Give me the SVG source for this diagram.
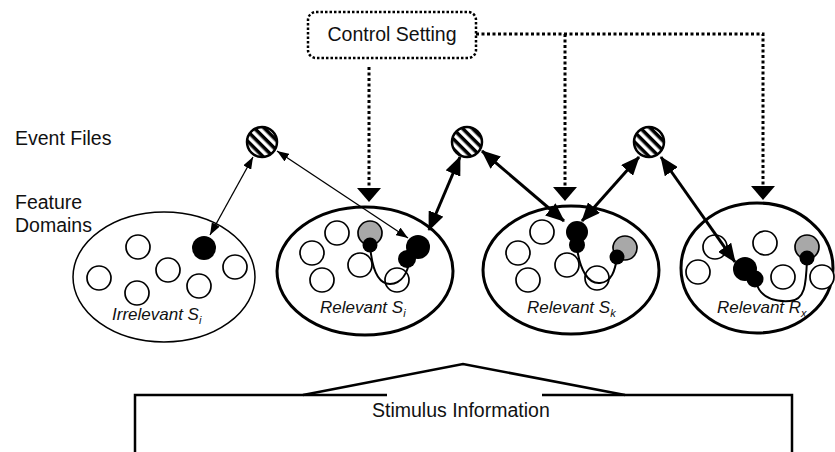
<svg xmlns="http://www.w3.org/2000/svg" width="835" height="452" viewBox="0 0 835 452">
<style>
text{font-family:"Liberation Sans",Arial,sans-serif;fill:#111}
.lbl{font-size:19.5px}
.it{font-size:17px;font-style:italic}
.sub{font-size:11px;font-style:italic}
.dom{fill:#fff;stroke:#000;stroke-width:3}
.domthin{fill:#fff;stroke:#000;stroke-width:1.5}
.f{fill:#fff;stroke:#000;stroke-width:1.7}
.g{fill:#a8a8a8;stroke:#000;stroke-width:1.7}
.b{fill:#000}
.ev{fill:url(#hatch);stroke:#000;stroke-width:2.5}
.curve{fill:none;stroke:#000;stroke-width:2}
.thick{fill:none;stroke:#000;stroke-width:3}
.thin{fill:none;stroke:#000;stroke-width:1.3}
.dot{fill:none;stroke:#000;stroke-width:3;stroke-dasharray:3 2.5}
.br{fill:none;stroke:#000;stroke-width:2.5}
</style>
<defs>
<pattern id="hatch" patternUnits="userSpaceOnUse" width="7" height="7" patternTransform="rotate(45)">
<rect width="7" height="7" fill="#fff"/>
<rect width="7" height="3.5" fill="#000"/>
</pattern>
<marker id="ah" viewBox="0 0 19 16" refX="18" refY="8" markerWidth="19" markerHeight="16" markerUnits="userSpaceOnUse" orient="auto-start-reverse"><path d="M0,0 L19,8 L0,16 z"/></marker>
<marker id="ahs" viewBox="0 0 12 9" refX="12" refY="4.5" markerWidth="12" markerHeight="9" markerUnits="userSpaceOnUse" orient="auto-start-reverse"><path d="M0,0 L12,4.5 L0,9 z"/></marker>
</defs>
<rect width="835" height="452" fill="#fff"/>

<g id="labels">
<text class="lbl" x="15" y="145">Event Files</text>
<text class="lbl" x="15" y="209">Feature</text>
<text class="lbl" x="15" y="232">Domains</text>
</g>

<g id="control-setting">
<rect x="308" y="12" width="168" height="46" rx="8" fill="#fff" stroke="#000" stroke-width="2.5" stroke-dasharray="2.5 2"/>
<text class="lbl" x="392" y="41" text-anchor="middle">Control Setting</text>
</g>

<g id="domain-irrelevant-si">
<ellipse class="domthin" cx="164" cy="277" rx="91" ry="65"/>
<circle class="f" cx="138" cy="247" r="12"/>
<circle class="f" cx="99" cy="278" r="12"/>
<circle class="f" cx="137" cy="293" r="12"/>
<circle class="f" cx="168" cy="270" r="12"/>
<circle class="f" cx="199" cy="286" r="12"/>
<circle class="f" cx="235" cy="267" r="12"/>
<circle class="b" cx="204" cy="248" r="12"/>
<text class="it" x="112" y="320">Irrelevant S<tspan class="sub" dy="4">i</tspan></text>
</g>

<g id="domain-relevant-si">
<ellipse class="dom" cx="365" cy="271" rx="88" ry="64"/>
<circle class="f" cx="337" cy="233" r="12"/>
<circle class="f" cx="312" cy="253" r="12"/>
<circle class="f" cx="322" cy="280" r="12"/>
<circle class="f" cx="360" cy="265" r="12"/>
<circle class="f" cx="397" cy="280" r="12"/>
<circle class="g" cx="370" cy="233" r="12"/>
<path class="curve" d="M370,245 C372,270 378,284 390,284 C402,284 408,272 410,258"/>
<circle class="b" cx="370" cy="245" r="7.5"/>
<circle class="b" cx="418" cy="247" r="12"/>
<circle class="b" cx="407" cy="259" r="9"/>
<text class="it" x="320" y="313">Relevant S<tspan class="sub" dy="4">i</tspan></text>
</g>

<g id="domain-relevant-sk">
<ellipse class="dom" cx="571" cy="270" rx="88" ry="64"/>
<circle class="f" cx="542" cy="232" r="12"/>
<circle class="f" cx="518" cy="253" r="12"/>
<circle class="f" cx="528" cy="280" r="12"/>
<circle class="f" cx="567" cy="265" r="12"/>
<circle class="f" cx="597" cy="278" r="12"/>
<circle class="g" cx="625" cy="248" r="12"/>
<path class="curve" d="M577,248 C580,270 588,284 600,283 C612,282 615,270 617,258"/>
<circle class="b" cx="617" cy="257" r="7.5"/>
<circle class="b" cx="577" cy="232" r="11"/>
<circle class="b" cx="577" cy="245" r="8"/>
<text class="it" x="527" y="313">Relevant S<tspan class="sub" dy="4">k</tspan></text>
</g>

<g id="domain-relevant-rx">
<ellipse class="dom" cx="757" cy="268" rx="76" ry="65"/>
<circle class="f" cx="715" cy="247" r="12"/>
<circle class="f" cx="698" cy="272" r="12"/>
<circle class="f" cx="765" cy="243" r="12"/>
<circle class="f" cx="783" cy="277" r="12"/>
<circle class="f" cx="822" cy="277" r="12"/>
<circle class="g" cx="807" cy="247" r="12"/>
<path class="curve" d="M756,282 C760,298 775,302 790,301 C805,300 806,285 807,260"/>
<circle class="b" cx="807" cy="258" r="7.5"/>
<circle class="b" cx="745" cy="269" r="12"/>
<circle class="b" cx="755" cy="279" r="8.5"/>
<text class="it" x="717" y="313">Relevant R<tspan class="sub" dy="4">x</tspan></text>
</g>

<g id="event-file-1"><circle class="ev" cx="262" cy="142" r="15"/></g>
<g id="event-file-2"><circle class="ev" cx="467" cy="142" r="15"/></g>
<g id="event-file-3"><circle class="ev" cx="649" cy="142" r="15"/></g>

<g id="stimulus-information">
<path class="br" d="M135,452 V395 H387"/>
<path class="br" d="M542,395 H792 V452"/>
<path class="br" d="M303,395 L463,364 L625,395"/>
<text class="lbl" x="372" y="417">Stimulus Information</text>
</g>

<g id="connectors">
<path class="dot" d="M476,34 H763 V186"/>
<path class="dot" d="M565,34 V188"/>
<path class="dot" d="M369,67 V188"/>
<path d="M357,188 L381,188 L369,202 z"/>
<path d="M553,187 L577,187 L565,201 z"/>
<path d="M751,186 L775,186 L763,200 z"/>
<line class="thin" x1="253" y1="157" x2="210" y2="235" marker-start="url(#ahs)" marker-end="url(#ahs)"/>
<line class="thin" x1="277" y1="151" x2="408" y2="238" marker-start="url(#ahs)" marker-end="url(#ahs)"/>
<line class="thick" x1="460" y1="157" x2="429" y2="230" marker-start="url(#ah)" marker-end="url(#ah)"/>
<line class="thick" x1="482" y1="151" x2="564" y2="221" marker-start="url(#ah)" marker-end="url(#ah)"/>
<line class="thick" x1="639" y1="157" x2="582" y2="221" marker-start="url(#ah)" marker-end="url(#ah)"/>
<line class="thick" x1="661" y1="157" x2="735" y2="262" marker-start="url(#ah)" marker-end="url(#ah)"/>
</g>
</svg>
